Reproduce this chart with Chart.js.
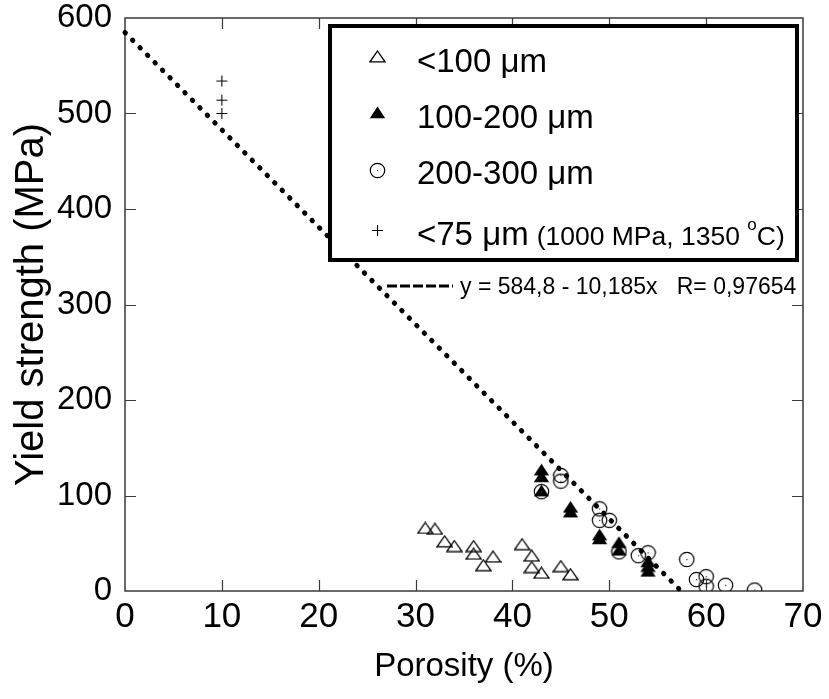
<!DOCTYPE html>
<html>
<head>
<meta charset="utf-8">
<script src="https://cdn.jsdelivr.net/npm/chart.js@4.4.1/dist/chart.umd.min.js"></script>
<style>
  html, body { margin: 0; padding: 0; background: #fff; }
  #wrap { width: 829px; height: 699px; }
</style>
</head>
<body>
<div id="wrap"><canvas id="c" width="829" height="699"></canvas></div>
<script>
const FONT = '"Liberation Sans", Arial, Helvetica, sans-serif';

// Yield strength (MPa) against porosity (%) for four powder size fractions
const fineX = [31, 32, 33, 34, 36, 36, 37, 38, 41, 42, 42, 43, 45, 46];
const fineY = [66, 65, 52, 47, 47, 39, 27, 36, 49, 37, 25, 19, 26, 17.5];

const midX = [43, 43, 43, 46, 46, 49, 49, 51, 51, 54, 54, 54];
const midY = [127, 120, 105, 88, 83, 59, 55, 51, 43, 31, 26, 21];

const coarseX = [43, 45, 45, 49, 49, 50, 51, 53, 54, 58, 59, 60, 60, 62, 65];
const coarseY = [104, 121, 115, 86, 74, 74, 41, 37, 40, 33, 12, 15, 5, 6, 1];

const pressedX = [10, 10, 10];
const pressedY = [534, 514, 500];

// Linear fit over the porous samples
const fitIntercept = 584.8;
const fitSlope = -10.185;
const fitR = 0.97654;

const xTicks = [0, 10, 20, 30, 40, 50, 60, 70];
const yTicks = [0, 100, 200, 300, 400, 500, 600];

const seriesLabels = ['<100 \u03BCm', '100-200 \u03BCm', '200-300 \u03BCm', '<75 \u03BCm'];
const pressNote = ['(1000 MPa, 1350 ', 'o', 'C)'];

const xTitle = 'Porosity (%)';
const yTitle = 'Yield strength (MPa)';

const pts = (xs, ys) => xs.map((x, i) => ({ x: x, y: ys[i] }));
const decimalComma = v => String(v).replace('.', ',');

// ---- marker glyphs ----
function makeCanvas(w, h, draw) {
  const cv = document.createElement('canvas');
  cv.width = w; cv.height = h;
  const g = cv.getContext('2d');
  draw(g);
  return cv;
}
const openTriangle = makeCanvas(17, 13, g => {
  g.beginPath();
  g.moveTo(8.5, 1); g.lineTo(16, 11.8); g.lineTo(1, 11.8); g.closePath();
  g.lineWidth = 1.3; g.strokeStyle = '#000'; g.stroke();
});
const solidTriangle = makeCanvas(17, 13, g => {
  g.beginPath();
  g.moveTo(8.5, 0.5); g.lineTo(16.2, 12.3); g.lineTo(0.8, 12.3); g.closePath();
  g.fillStyle = '#000'; g.fill();
});
const ringDot = makeCanvas(17, 17, g => {
  g.beginPath();
  g.arc(8.5, 8.5, 7.2, 0, Math.PI * 2);
  g.lineWidth = 1.2; g.strokeStyle = '#000'; g.stroke();
  g.fillStyle = '#333'; g.fillRect(8, 8, 1.2, 1.2);
});
const plusMark = makeCanvas(13, 13, g => {
  g.strokeStyle = '#000'; g.lineWidth = 1.1;
  g.beginPath();
  g.moveTo(6.5, 1); g.lineTo(6.5, 12);
  g.moveTo(1, 6.5); g.lineTo(12, 6.5);
  g.stroke();
});
const markers = [openTriangle, solidTriangle, ringDot, plusMark];

// ---- frame with inward ticks on all four sides ----
const framePlugin = {
  id: 'frame',
  beforeDatasetsDraw(chart) {
    const { ctx, chartArea: a, scales } = chart;
    const len = 11;
    ctx.save();
    ctx.strokeStyle = '#3a3a3a';
    ctx.lineWidth = 1.5;
    ctx.strokeRect(a.left, a.top, a.right - a.left, a.bottom - a.top);
    ctx.beginPath();
    xTicks.slice(1, -1).forEach(v => {
      const px = Math.round(scales.x.getPixelForValue(v)) + 0.5;
      ctx.moveTo(px, a.bottom); ctx.lineTo(px, a.bottom - len);
      ctx.moveTo(px, a.top); ctx.lineTo(px, a.top + len);
    });
    yTicks.slice(1, -1).forEach(v => {
      const py = Math.round(scales.y.getPixelForValue(v)) + 0.5;
      ctx.moveTo(a.left, py); ctx.lineTo(a.left + len, py);
      ctx.moveTo(a.right, py); ctx.lineTo(a.right - len, py);
    });
    ctx.lineWidth = 1.2;
    ctx.stroke();
    ctx.restore();
  }
};

// ---- boxed legend plus fit equation ----
const legendPlugin = {
  id: 'boxLegend',
  afterDatasetsDraw(chart) {
    const ctx = chart.ctx;
    ctx.save();
    // box
    ctx.fillStyle = '#fff';
    ctx.fillRect(328, 24, 471, 238);
    ctx.strokeStyle = '#000';
    ctx.lineWidth = 4;
    ctx.strokeRect(330, 26, 467, 234);

    const markY = [56, 112, 170, 230];
    const baseY = [72, 128, 184, 245];
    ctx.fillStyle = '#000';
    ctx.textBaseline = 'alphabetic';
    ctx.textAlign = 'left';
    seriesLabels.forEach((lab, i) => {
      const m = markers[i];
      ctx.drawImage(m, Math.round(377 - m.width / 2), Math.round(markY[i] - m.height / 2));
      ctx.font = '33px ' + FONT;
      ctx.fillText(lab, 417, baseY[i]);
    });
    // pressing conditions after the last label
    let x = 417 + ctx.measureText(seriesLabels[3]).width + 8;
    ctx.font = '26.5px ' + FONT;
    ctx.fillText(pressNote[0], x, baseY[3]);
    x += ctx.measureText(pressNote[0]).width;
    ctx.font = '17px ' + FONT;
    ctx.fillText(pressNote[1], x, baseY[3] - 15);
    x += ctx.measureText(pressNote[1]).width;
    ctx.font = '26.5px ' + FONT;
    ctx.fillText(pressNote[2], x, baseY[3]);

    // fit equation with its line sample
    ctx.beginPath();
    ctx.setLineDash([10, 3]);
    ctx.lineWidth = 3;
    ctx.moveTo(387, 286); ctx.lineTo(453, 286);
    ctx.stroke();
    ctx.setLineDash([]);
    ctx.font = '23px ' + FONT;
    const eq = 'y = ' + decimalComma(fitIntercept) + ' - ' + decimalComma(-fitSlope) +
               'x   R= ' + decimalComma(fitR);
    ctx.fillText(eq, 460, 294);
    ctx.restore();
  }
};

const fitLine = [
  { x: 0, y: fitIntercept },
  { x: -fitIntercept / fitSlope, y: 0 }
];

new Chart(document.getElementById('c'), {
  type: 'scatter',
  data: {
    datasets: [
      {
        label: 'fit',
        data: fitLine,
        showLine: true,
        borderColor: '#000',
        borderWidth: 5,
        borderDash: [0.5, 10.1],
        borderCapStyle: 'round',
        pointRadius: 0,
        clip: false
      },
      { label: seriesLabels[2], data: pts(coarseX, coarseY), pointStyle: ringDot },
      { label: seriesLabels[1], data: pts(midX, midY), pointStyle: solidTriangle },
      { label: seriesLabels[0], data: pts(fineX, fineY), pointStyle: openTriangle },
      { label: seriesLabels[3], data: pts(pressedX, pressedY), pointStyle: plusMark }
    ]
  },
  options: {
    responsive: false,
    animation: false,
    events: [],
    layout: { padding: { left: 0, top: 18, right: 26, bottom: 0 } },
    plugins: { legend: { display: false }, tooltip: { enabled: false } },
    scales: {
      x: {
        type: 'linear',
        min: 0, max: 70,
        afterBuildTicks: s => { s.ticks = xTicks.map(v => ({ value: v })); },
        afterFit: s => { s.height = 108; s.paddingLeft = 0; s.paddingRight = 0; },
        grid: { display: false, drawTicks: false },
        border: { display: false },
        ticks: { color: '#000', font: { family: FONT, size: 35 }, padding: 5, maxRotation: 0, autoSkip: false },
        title: { display: true, text: xTitle, color: '#000', font: { family: FONT, size: 33 }, padding: { top: 0, bottom: 12 } }
      },
      y: {
        type: 'linear',
        min: 0, max: 600,
        afterBuildTicks: s => { s.ticks = yTicks.map(v => ({ value: v })); },
        afterFit: s => { s.width = 125; s.paddingTop = 0; s.paddingBottom = 0; },
        grid: { display: false, drawTicks: false },
        border: { display: false },
        ticks: { color: '#000', font: { family: FONT, size: 33 }, padding: 13, autoSkip: false },
        title: { display: true, text: yTitle, color: '#000', font: { family: FONT, size: 40 }, padding: { top: 8, bottom: 0 } }
      }
    }
  },
  plugins: [framePlugin, legendPlugin]
});
</script>
</body>
</html>
